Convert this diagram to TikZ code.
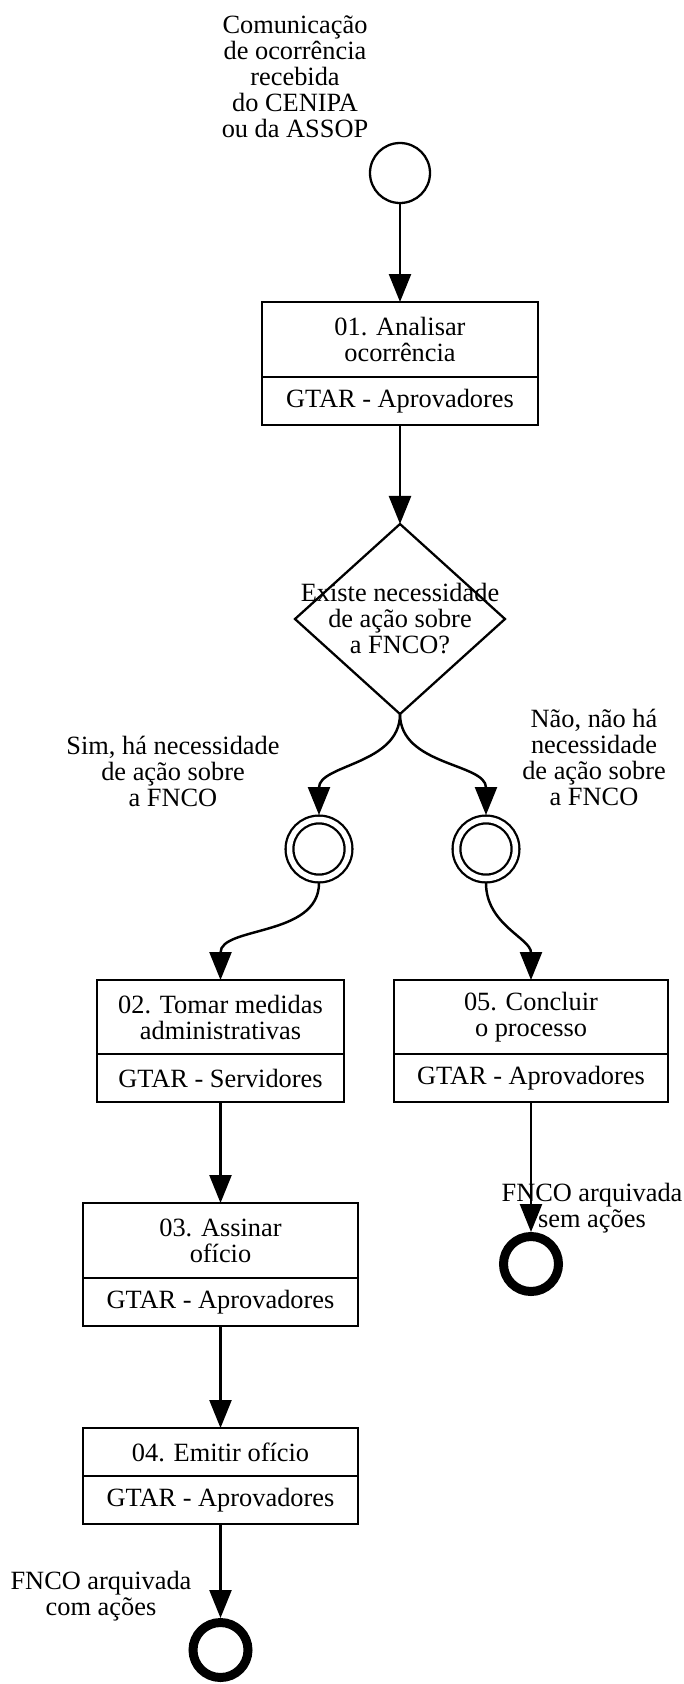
\documentclass[tikz,border=0pt]{standalone}
\usepackage{fontspec}
\setmainfont{Liberation Serif}
\usepackage{tikz}
\usetikzlibrary{calc}
\usetikzlibrary{positioning}
\usetikzlibrary{shapes.geometric}
\usetikzlibrary{arrows.meta}
\newcommand{\flowfont}{\fontsize{15pt}{14.8pt}\selectfont}
\tikzstyle{txtnode} = [font=\flowfont, align=center, inner sep=0pt]
\tikzstyle{tasknode} = [draw, rectangle, line width=1.6pt, outer sep=0pt, inner sep=0pt, font=\flowfont, align=center]
\tikzstyle{startnode} = [draw, circle, line width=1.3pt, minimum size=1.2cm, inner sep=0pt]
\tikzstyle{midnode} = [draw, circle, double, double distance=0.11cm, line width=1.3pt, minimum size=1.18cm, inner sep=0pt, outer sep=0.09cm]
\tikzstyle{endnode} = [draw, circle, line width=0.18cm, minimum size=1.1cm, inner sep=0pt]
\tikzstyle{gatenode} = [draw, diamond, line width=1.3pt, minimum width=4.2cm, minimum height=3.8cm, inner sep=0pt, outer sep=0pt]
\tikzstyle{flow} = [line width=1.4pt, -{Triangle[length=0.56cm, width=0.44cm]}]

\begin{document}
\begin{tikzpicture}
    \useasboundingbox (0,0) rectangle (13.68,-33.68);

    \node[startnode] (start) at (8,-3.46) {};
    \node[txtnode] (start_lbl) at ($(start)+(-2.1,1.92)$) {Comunicação\\de ocorrência\\recebida\\do CENIPA\\ou da ASSOP};

    \node[tasknode, minimum width=5.52cm, minimum height=1.5cm] (task_one) at ($(start)+(0,-3.33)$) {01. Analisar\\ocorrência};
    \node[tasknode, minimum width=5.52cm, minimum height=0.96cm, below=0pt of task_one] (role_one) {GTAR - Aprovadores};
    \draw[flow] (start) -- (task_one);

    \node[gatenode] (gate) at ($(role_one)+(0,-4.36)$) {};
    \node[txtnode] (gate_lbl) at (gate) {Existe necessidade\\de ação sobre\\a FNCO?};
    \draw[flow] (role_one) -- (gate);

    \node[midnode] (mid_yes) at ($(gate)+(-1.62,-4.6)$) {};
    \node[midnode] (mid_no) at ($(gate)+(1.72,-4.6)$) {};
    \node[txtnode] (yes_lbl) at ($(mid_yes)+(-2.92,1.56)$) {Sim, há necessidade\\de ação sobre\\a FNCO};
    \node[txtnode] (no_lbl) at ($(mid_no)+(2.16,1.84)$) {Não, não há\\necessidade\\de ação sobre\\a FNCO};
    \draw[flow] (gate.south) to[out=-90, in=90] (mid_yes.north);
    \draw[flow] (gate.south) to[out=-90, in=90] (mid_no.north);

    \node[tasknode, minimum width=4.94cm, minimum height=1.48cm] (task_two) at ($(mid_yes)+(-1.97,-3.36)$) {02. Tomar medidas\\administrativas};
    \node[tasknode, minimum width=4.94cm, minimum height=0.96cm, below=0pt of task_two] (role_two) {GTAR - Servidores};
    \draw[flow] (mid_yes.south) to[out=-90, in=90] (task_two.north);

    \node[tasknode, minimum width=5.48cm, minimum height=1.48cm] (task_five) at ($(mid_no)+(0.9,-3.36)$) {05. Concluir\\o processo};
    \node[tasknode, minimum width=5.48cm, minimum height=0.96cm, below=0pt of task_five] (role_five) {GTAR - Aprovadores};
    \draw[flow] (mid_no.south) to[out=-90, in=90] (task_five.north);

    \node[tasknode, minimum width=5.5cm, minimum height=1.5cm] (task_three) at ($(role_two)+(0,-3.25)$) {03. Assinar\\ofício};
    \node[tasknode, minimum width=5.5cm, minimum height=0.96cm, below=0pt of task_three] (role_three) {GTAR - Aprovadores};
    \draw[flow] (role_two) -- (task_three);

    \node[tasknode, minimum width=5.5cm, minimum height=0.96cm] (task_four) at ($(role_three)+(0,-3.0)$) {04. Emitir ofício};
    \node[tasknode, minimum width=5.5cm, minimum height=0.96cm, below=0pt of task_four] (role_four) {GTAR - Aprovadores};
    \draw[flow] (role_three) -- (task_four);

    \node[endnode] (end_yes) at ($(role_four)+(0,-3.0)$) {};
    \node[txtnode] (endyes_lbl) at ($(end_yes)+(-2.39,1.08)$) {FNCO arquivada\\com ações};
    \draw[flow] (role_four) -- (end_yes);

    \node[endnode] (end_no) at ($(role_five)+(0,-3.72)$) {};
    \node[txtnode] (endno_lbl) at ($(end_no)+(1.22,1.12)$) {FNCO arquivada\\sem ações};
    \draw[flow] (role_five) -- (end_no);
\end{tikzpicture}
\end{document}
